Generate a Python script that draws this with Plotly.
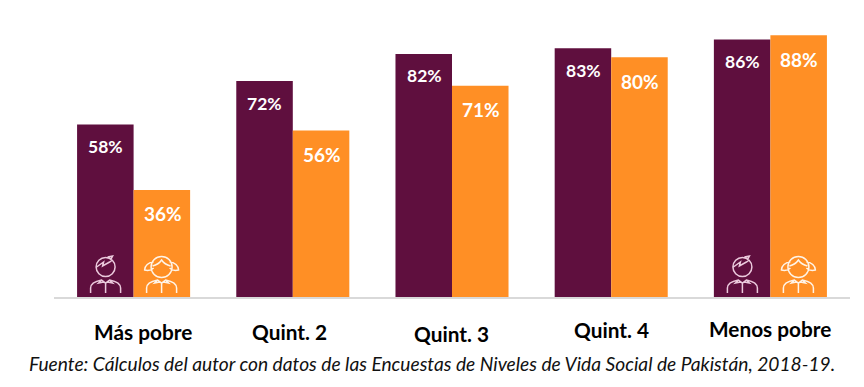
import plotly.graph_objects as go

categories = ["Más pobre", "Quint. 2", "Quint. 3", "Quint. 4", "Menos pobre"]
boys = [58, 72.6, 81.7, 83.6, 86.6]
girls = [36, 56, 71, 80.6, 88]
boy_labels = ["58%", "72%", "82%", "83%", "86%"]
girl_labels = ["36%", "56%", "71%", "80%", "88%"]
source = "Fuente: Cálculos del autor con datos de las Encuestas de Niveles de Vida Social de Pakistán, 2018-19."
icon_categories = ["Más pobre", "Menos pobre"]
label_dx = [9, -3, -1, 0, 0]
label_dy = [-34, -34, -36, -32, -31]

BOY = "#5F0F3E"
GIRL = "#FF8F25"
FONT = "Lato"

fig = go.Figure()
fig.add_bar(x=categories, y=boys, marker=dict(color=BOY, line_width=0), showlegend=False, hoverinfo="skip")
fig.add_bar(x=categories, y=girls, marker=dict(color=GIRL, line_width=0), showlegend=False, hoverinfo="skip")

annotations = []
for c, b, g, bl, gl in zip(categories, boys, girls, boy_labels, girl_labels):
    annotations.append(dict(x=c, y=b, xref="x", yref="y", text=f"<b>{bl}</b>", showarrow=False, xshift=-28, yshift=-22,
                            font=dict(family=FONT, size=17.5, color="white")))
    annotations.append(dict(x=c, y=g, xref="x", yref="y", text=f"<b>{gl}</b>", showarrow=False, xshift=29, yshift=-24,
                            font=dict(family=FONT, size=19, color="white")))
for c, dx, dy in zip(categories, label_dx, label_dy):
    annotations.append(dict(x=c, y=0, xref="x", yref="y", text=f"<b>{c}</b>", showarrow=False, xshift=dx, yshift=dy,
                            font=dict(family=FONT, size=20.8, color="black")))
annotations.append(dict(text=source, xref="paper", yref="paper", x=-0.0333, y=-0.24, xanchor="left", yanchor="middle",
                        showarrow=False, font=dict(family=FONT, size=19.2, color="#111111", style="italic")))


def shift(path_parts, dx):
    out = []
    for p in path_parts:
        if p[0] == "C":
            nums = p[1]
            out.append("C" + " ".join(f"{nums[i]+dx},{nums[i+1]}" for i in range(0, len(nums), 2)))
        else:
            out.append(f"{p[0]}{p[1]+dx},{p[2]}")
    return " ".join(out)


def circle(cx, cy, r):
    k = 0.5523 * r
    return [("M", cx - r, cy),
            ("C", [cx - r, cy + k, cx - k, cy + r, cx, cy + r]),
            ("C", [cx + k, cy + r, cx + r, cy + k, cx + r, cy]),
            ("C", [cx + r, cy - k, cx + k, cy - r, cx, cy - r]),
            ("C", [cx - k, cy - r, cx - r, cy - k, cx - r, cy])]


body = [("M", -15, 4), ("L", -15, 9), ("C", [-15, 14, -9, 16, -4, 17]), ("L", 0, 14), ("L", 4, 17),
        ("C", [9, 16, 15, 14, 15, 9]), ("L", 15, 4),
        ("M", 0, 4), ("L", 0, 14),
        ("M", -4, 17), ("L", -7, 14), ("L", -2, 15), ("L", 0, 14), ("L", 2, 15), ("L", 7, 14), ("L", 4, 17)]
boy_extra = [("M", -9, 30), ("L", -2, 35), ("L", -3, 31), ("L", 4, 35), ("L", 7, 37),
             ("M", 2, 40), ("L", 7, 41), ("L", 5, 37)]
girl_extra = [("M", -9, 31), ("C", [-5, 32, -2, 34, 0, 37]), ("C", [2, 34, 5, 32, 9, 31]),
              ("M", -8, 35), ("C", [-13, 35, -17, 31, -17, 27]), ("C", [-13, 26, -10, 27, -8, 29]),
              ("M", 8, 35), ("C", [13, 35, 17, 31, 17, 27]), ("C", [13, 26, 10, 27, 8, 29])]

shapes = []
for c in icon_categories:
    for dx, col, parts in [(-28, "#EBC9DC", body + circle(0, 30, 9.5) + boy_extra),
                           (28, "#FFF3E6", body + circle(0, 30, 10.5) + girl_extra)]:
        shapes.append(dict(type="path", xref="x", yref="y", xsizemode="pixel", ysizemode="pixel",
                           xanchor=c, yanchor=0, path=shift(parts, dx),
                           line=dict(color=col, width=1.5), layer="above"))

fig.update_layout(
    width=856, height=379, paper_bgcolor="white", plot_bgcolor="white", barmode="group", bargap=0.29, bargroupgap=0,
    margin=dict(l=46, r=14, t=10, b=90, autoexpand=False),
    xaxis=dict(showgrid=False, showline=True, linecolor="#D9D9D9", linewidth=2, ticks="", showticklabels=False,
               zeroline=False, fixedrange=True),
    yaxis=dict(visible=False, range=[0, 93.8], fixedrange=True),
    annotations=annotations, shapes=shapes,
)
fig.write_html("out.html")
